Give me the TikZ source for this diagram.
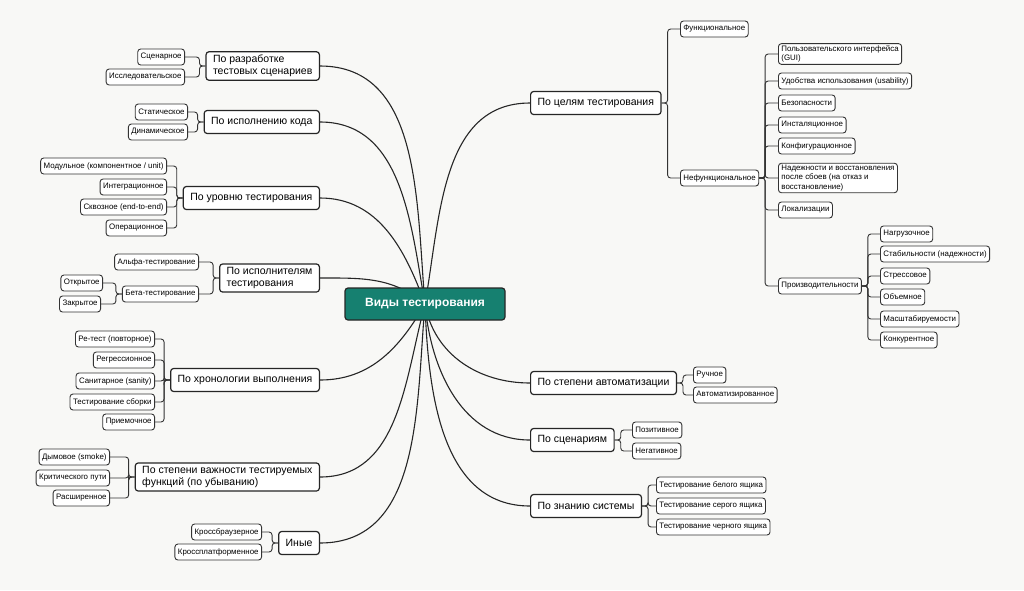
\documentclass[tikz,border=0pt]{standalone}
\usepackage{fontspec}
\setmainfont{Liberation Sans}
\usetikzlibrary{positioning,backgrounds}
\definecolor{teal2}{RGB}{22,128,112}
\definecolor{paper}{RGB}{248,248,246}
\tikzset{branch/.style={
    % the shape:
    rectangle, rounded corners=3pt,
    minimum height=23pt,
    % the border:
    draw=black!85, line width=1.2pt, fill=white,
    font=\fontsize{10.5}{12}\selectfont, align=left,
    inner xsep=7pt
    },
    leaf/.style={
    rectangle, rounded corners=3pt,
    minimum height=16pt,
    draw=black!80, line width=0.9pt, fill=white,
    font=\fontsize{7.9}{9.2}\selectfont, align=left,
    inner xsep=3pt, inner ysep=2pt
    },
    root/.style={
    rectangle, rounded corners=3pt,
    minimum height=32pt, minimum width=160pt,
    draw=black!85, line width=1.2pt, fill=teal2,
    text=white, font=\fontsize{12}{14}\bfseries
    },
    link/.style={draw=black!85, line width=1.1pt},
    twig/.style={draw=black!80, line width=0.9pt, rounded corners=3pt},
}
% bracket from a parent to a child on its left / right
\newcommand\subl[2]{\draw[twig] (#1.west) -- ++(-6pt,0) |- (#2.east);}
\newcommand\subr[2]{\draw[twig] (#1.east) -- ++(6pt,0) |- (#2.west);}

\begin{document}
\begin{tikzpicture}[x=1pt,y=-1pt]
    \useasboundingbox (0,0) rectangle (1024,590);
    \node (root) [root] at (425,304) {Виды тестирования};

    % left side
    \node (dev)   [branch,anchor=east] at (320,66)  {По разработке\\тестовых сценариев};
    \node (code)  [branch,anchor=east] at (320,122) {По исполнению кода};
    \node (level) [branch,anchor=east] at (320,198) {По уровню тестирования};
    \node (who)   [branch,anchor=east] at (320,278) {По исполнителям\\тестирования};
    \node (chron) [branch,anchor=east] at (320,380) {По хронологии выполнения};
    \node (prio)  [branch,anchor=east] at (320,477) {По степени важности тестируемых\\функций (по убыванию)};
    \node (other) [branch,anchor=east] at (320,543) {Иные};

    \node (scen)  [leaf,anchor=east] at (185,57)  {Сценарное};
    \node (expl)  [leaf,anchor=east] at (185,77)  {Исследовательское};
    \node (stat)  [leaf,anchor=east] at (188,112) {Статическое};
    \node (dyn)   [leaf,anchor=east] at (188,132) {Динамическое};
    \node (unit)  [leaf,anchor=east] at (167,166) {Модульное (компонентное / unit)};
    \node (integ) [leaf,anchor=east] at (167,187) {Интеграционное};
    \node (e2e)   [leaf,anchor=east] at (167,207) {Сквозное (end-to-end)};
    \node (ops)   [leaf,anchor=east] at (167,228) {Операционное};
    \node (alpha) [leaf,anchor=east] at (199,262) {Альфа-тестирование};
    \node (beta)  [leaf,anchor=east] at (199,294) {Бета-тестирование};
    \node (open)  [leaf,anchor=east] at (103,283) {Открытое};
    \node (closed)[leaf,anchor=east] at (101,304) {Закрытое};
    \node (retest)[leaf,anchor=east] at (155,339) {Ре-тест (повторное)};
    \node (regr)  [leaf,anchor=east] at (155,360) {Регрессионное};
    \node (sanity)[leaf,anchor=east] at (155,381) {Санитарное (sanity)};
    \node (build) [leaf,anchor=east] at (155,402) {Тестирование сборки};
    \node (accept)[leaf,anchor=east] at (155,422) {Приемочное};
    \node (smoke) [leaf,anchor=east] at (110,457) {Дымовое (smoke)};
    \node (crit)  [leaf,anchor=east] at (110,478) {Критического пути};
    \node (ext)   [leaf,anchor=east] at (110,498) {Расширенное};
    \node (xbr)   [leaf,anchor=east] at (262,532) {Кроссбраузерное};
    \node (xpl)   [leaf,anchor=east] at (262,552) {Кроссплатформенное};

    % right side
    \node (goal)  [branch,anchor=west] at (530,103) {По целям тестирования};
    \node (auto)  [branch,anchor=west] at (530,383) {По степени автоматизации};
    \node (case)  [branch,anchor=west] at (530,440) {По сценариям};
    \node (know)  [branch,anchor=west] at (530,506) {По знанию системы};

    \node (func)  [leaf,anchor=west] at (680,29)  {Функциональное};
    \node (nfunc) [leaf,anchor=west] at (680,178) {Нефункциональное};
    \node (gui)   [leaf,anchor=west] at (778,54)  {Пользовательского интерфейса\\(GUI)};
    \node (usab)  [leaf,anchor=west] at (778,81)  {Удобства использования (usability)};
    \node (sec)   [leaf,anchor=west] at (778,103) {Безопасности};
    \node (inst)  [leaf,anchor=west] at (778,125) {Инсталяционное};
    \node (conf)  [leaf,anchor=west] at (778,146) {Конфигурационное};
    \node (rel)   [leaf,anchor=west] at (778,178) {Надежности и восстановления\\после сбоев (на отказ и\\восстановление)};
    \node (loc)   [leaf,anchor=west] at (778,210) {Локализации};
    \node (perf)  [leaf,anchor=west] at (778,286) {Производительности};
    \node (load)  [leaf,anchor=west] at (880,234) {Нагрузочное};
    \node (stab)  [leaf,anchor=west] at (880,254) {Стабильности (надежности)};
    \node (stress)[leaf,anchor=west] at (880,276) {Стрессовое};
    \node (vol)   [leaf,anchor=west] at (880,297) {Объемное};
    \node (scale) [leaf,anchor=west] at (880,319) {Масштабируемости};
    \node (conc)  [leaf,anchor=west] at (880,340) {Конкурентное};
    \node (man)   [leaf,anchor=west] at (693,375) {Ручное};
    \node (autom) [leaf,anchor=west] at (693,395) {Автоматизированное};
    \node (pos)   [leaf,anchor=west] at (632,430) {Позитивное};
    \node (neg)   [leaf,anchor=west] at (632,451) {Негативное};
    \node (white) [leaf,anchor=west] at (656,485) {Тестирование белого ящика};
    \node (grey)  [leaf,anchor=west] at (656,506) {Тестирование серого ящика};
    \node (black) [leaf,anchor=west] at (656,527) {Тестирование черного ящика};

    \begin{pgfonlayer}{background}
    \fill[paper] (0,0) rectangle (1024,590);
    \draw[link] (root.center) to[out=95,in=0]   (dev.east);
    \draw[link] (root.center) to[out=100,in=0]  (code.east);
    \draw[link] (root.center) to[out=110,in=0]  (level.east);
    \draw[link] (root.center) to[out=140,in=0]  (who.east);
    \draw[link] (root.center) to[out=-120,in=0] (chron.east);
    \draw[link] (root.center) to[out=-105,in=0] (prio.east);
    \draw[link] (root.center) to[out=-95,in=0]  (other.east);
    \draw[link] (root.center) to[out=80,in=180]  (goal.west);
    \draw[link] (root.center) to[out=-80,in=180] (auto.west);
    \draw[link] (root.center) to[out=-85,in=180] (case.west);
    \draw[link] (root.center) to[out=-88,in=180] (know.west);
    \subl{dev}{scen} \subl{dev}{expl}
    \subl{code}{stat} \subl{code}{dyn}
    \foreach \c in {unit,integ,e2e,ops} {\subl{level}{\c}}
    \subl{who}{alpha} \subl{who}{beta}
    \subl{beta}{open} \subl{beta}{closed}
    \foreach \c in {retest,regr,sanity,build,accept} {\subl{chron}{\c}}
    \foreach \c in {smoke,crit,ext} {\subl{prio}{\c}}
    \subl{other}{xbr} \subl{other}{xpl}
    \subr{goal}{func} \subr{goal}{nfunc}
    \foreach \c in {gui,usab,sec,inst,conf,rel,loc,perf} {\subr{nfunc}{\c}}
    \foreach \c in {load,stab,stress,vol,scale,conc} {\subr{perf}{\c}}
    \subr{auto}{man} \subr{auto}{autom}
    \subr{case}{pos} \subr{case}{neg}
    \foreach \c in {white,grey,black} {\subr{know}{\c}}
    \end{pgfonlayer}
\end{tikzpicture}
\end{document}
